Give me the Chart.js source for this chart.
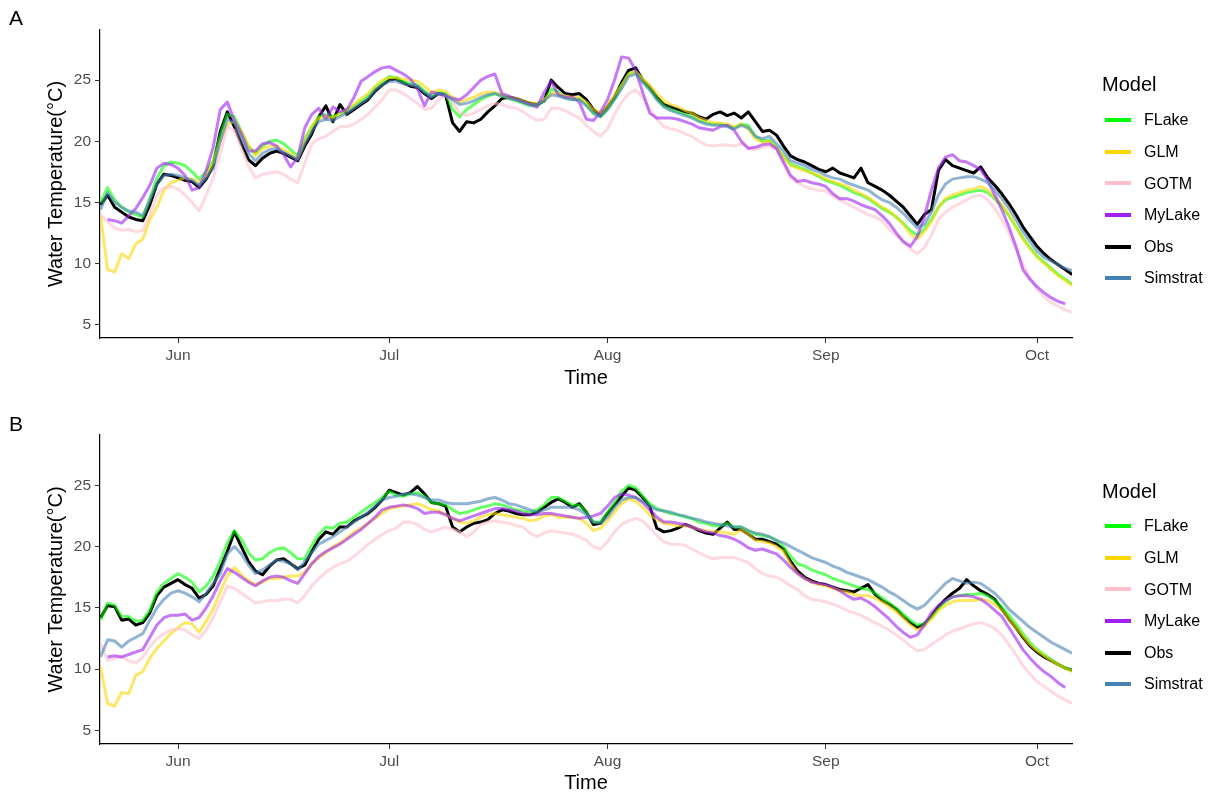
<!DOCTYPE html>
<html>
<head>
<meta charset="utf-8">
<script src="https://cdn.jsdelivr.net/npm/chart.js@4.4.1/dist/chart.umd.min.js"></script>
<style>
  body { margin: 0; background: #fff; font-family: 'Liberation Sans', Arial, Helvetica, sans-serif; }
  #wrap { position: relative; width: 1212px; height: 796px; overflow: hidden; }
  canvas { position: absolute; left: 0; }
  #chartA { top: 0; }
  #chartB { top: 400px; }
  .tag { position: absolute; left: 9px; font-size: 21px; line-height: 21px; color: #000; }
  .legend-title { position: absolute; left: 1102px; font-size: 20px; line-height: 20px; color: #000; }
  .legend-key { position: absolute; left: 1105px; width: 26px; height: 4px; }
  .legend-label { position: absolute; left: 1144px; font-size: 16px; line-height: 16px; color: #000; }
</style>
</head>
<body>
<div id="wrap">
  <canvas id="chartA" width="1212" height="400"></canvas>
  <canvas id="chartB" width="1212" height="396"></canvas>
  <div class="tag" style="top:7px">A</div>
  <div class="tag" style="top:413px">B</div>
  <div id="legendA"></div>
  <div id="legendB"></div>
</div>
<script>
// days counted from 1 June (day 0), one value per day from 21 May (-11) to 6 Oct (127)
const days = Array.from({ length: 139 }, (_, i) => i - 11);
const monthTicks = [0, 30, 61, 92, 122];
const monthLabels = ['Jun', 'Jul', 'Aug', 'Sep', 'Oct'];
const yTicks = [5, 10, 15, 20, 25];

const models = ['FLake', 'GLM', 'GOTM', 'MyLake', 'Obs', 'Simstrat'];
const modelColors = ['#00FF00', '#FFD700', '#FFC0CB', '#A020F0', '#000000', '#4682B4'];

// ---- panel A ----
const flakeA = [
  15.0, 16.2, 15.2, 14.6, 14.2, 14.0, 13.8, 15.3, 17.0, 18.0,
  18.3, 18.2, 18.0, 17.5, 16.9, 17.5, 18.4, 20.5, 22.2, 22.0,
  20.8, 19.6, 19.0, 19.6, 20.0, 20.1, 19.8, 19.3, 18.8, 20.2,
  21.2, 22.0, 22.2, 22.0, 22.2, 22.5, 22.9, 23.3, 23.7, 24.4,
  24.8, 25.3, 25.2, 24.9, 24.7, 24.6, 24.1, 23.7, 24.0, 23.9,
  22.6, 22.0, 22.6, 23.0, 23.4, 23.7, 23.9, 23.7, 23.5, 23.3,
  23.1, 22.9, 22.9, 23.3, 24.3, 24.0, 23.6, 23.4, 23.5, 23.0,
  22.3, 22.0, 22.6, 23.5, 24.5, 25.5, 25.7, 25.0, 24.3, 23.5,
  22.9, 22.6, 22.4, 22.2, 22.0, 21.7, 21.5, 21.4, 21.4, 21.3,
  21.1, 21.4, 21.3, 20.4, 20.0, 20.1, 19.5, 18.8, 18.1, 17.9,
  17.7, 17.4, 17.1, 16.8, 16.6, 16.4, 16.1, 15.8, 15.6, 15.3,
  14.9, 14.5, 14.2, 13.8, 13.3, 12.7, 12.3, 12.8, 13.6, 14.6,
  15.2, 15.4, 15.6, 15.8, 15.9, 16.0, 15.8, 15.3, 14.7, 13.9,
  13.0, 12.1, 11.3, 10.6, 10.1, 9.6, 9.1, 8.7, 8.3
];
const glmA = [
  13.9, 9.5, 9.3, 10.8, 10.4, 11.6, 12.0, 13.6, 14.6, 16.0,
  16.6, 16.8, 17.0, 16.9, 16.6, 17.2, 18.2, 20.0, 21.4, 21.6,
  20.8, 19.6, 18.8, 19.4, 19.6, 19.6, 19.3, 19.0, 18.6, 20.0,
  21.2, 21.9, 22.0, 21.9, 22.3, 22.6, 23.0, 23.5, 23.9, 24.5,
  25.0, 25.2, 25.2, 25.1, 25.0, 24.9, 24.5, 24.0, 24.2, 24.1,
  23.6, 23.2, 23.4, 23.6, 23.9, 24.0, 24.0, 23.8, 23.6, 23.5,
  23.3, 23.1, 23.1, 23.4, 23.9, 23.9, 23.7, 23.6, 23.6, 23.2,
  22.6, 22.3, 22.9, 23.8, 24.6, 25.5, 25.7, 25.1, 24.6, 23.9,
  23.3, 23.0, 22.8, 22.5, 22.3, 21.9, 21.7, 21.5, 21.5, 21.4,
  21.2, 21.4, 21.0, 20.2, 19.9, 20.0, 19.4, 18.7, 18.0, 17.8,
  17.6, 17.4, 17.2, 16.9, 16.7, 16.5, 16.3, 16.0, 15.7, 15.4,
  15.0, 14.6, 14.3, 13.8, 13.2, 12.4, 12.0, 12.6, 13.4, 14.6,
  15.3, 15.6, 15.8, 16.0, 16.1, 16.3, 16.0, 15.4, 14.8, 14.0,
  13.0, 12.0, 11.2, 10.5, 10.0, 9.5, 9.0, 8.6, 8.2
];
const gotmA = [
  14.0, 13.4, 12.9, 12.7, 12.8, 12.6, 12.7, 14.0, 15.6, 16.2,
  16.3, 16.1, 15.6, 15.0, 14.3, 15.6, 17.0, 19.0, 21.2, 20.9,
  19.4, 18.0, 17.0, 17.3, 17.4, 17.5, 17.3, 16.9, 16.6, 18.2,
  19.8, 20.2, 20.4, 20.8, 21.2, 21.2, 21.4, 21.8, 22.2, 22.8,
  23.4, 24.2, 24.2, 23.9, 23.5, 23.1, 22.6, 22.7, 23.4, 23.8,
  23.2, 22.3, 22.1, 22.3, 22.6, 22.9, 23.1, 23.0, 22.8, 22.7,
  22.4, 22.0, 21.7, 21.8, 22.7, 22.7, 22.5, 22.2, 21.9, 21.3,
  20.8, 20.4, 21.0, 22.2, 23.2, 23.9, 24.2, 23.6, 22.6, 21.8,
  21.2, 21.0, 20.9, 20.6, 20.4, 20.0, 19.7, 19.6, 19.7, 19.7,
  19.6, 19.8, 19.5, 19.3, 19.5, 19.6, 19.3, 18.2, 17.0, 16.6,
  16.3, 16.1, 16.0, 15.9, 15.5, 15.2, 14.9, 14.6, 14.3, 14.0,
  13.8, 13.5, 12.8, 12.3, 11.8, 11.2, 10.8, 11.3, 12.3, 13.6,
  14.2, 14.6, 14.9, 15.2, 15.5, 15.6, 15.2, 14.5, 13.6, 12.5,
  11.2, 10.0, 8.8, 7.9, 7.3, 6.8, 6.5, 6.2, 6.0
];
const mylakeA = [
  null, 13.6, 13.5, 13.3, 13.9, 14.5, 15.4, 16.4, 17.8, 18.2,
  18.1, 17.8, 17.2, 16.0, 16.2, 17.6, 19.5, 22.6, 23.2, 21.7,
  20.6, 19.2, 19.2, 19.8, 19.9, 19.6, 18.9, 17.9, 18.7, 21.1,
  22.2, 22.7, 21.8, 22.8, 22.4, 22.6, 23.6, 24.9, 25.3, 25.7,
  26.0, 26.1, 25.8, 25.5, 25.1, 24.3, 22.9, 24.0, 23.9, 23.7,
  23.5, 23.4, 23.8, 24.4, 25.0, 25.3, 25.5, 23.9, 23.7, 23.4,
  23.2, 23.0, 22.8, 24.0, 24.9, 23.8, 23.6, 23.6, 23.2, 21.8,
  21.7, 22.4, 23.4, 25.0, 26.9, 26.8, 25.8, 24.0, 22.3, 21.9,
  21.9, 21.9, 21.8, 21.6, 21.4, 21.1, 21.0, 20.9, 21.2, 21.3,
  20.9, 20.0, 19.4, 19.5, 19.7, 19.8, 19.4, 18.3, 17.2, 16.7,
  16.8, 16.6, 16.5, 16.3, 15.7, 15.3, 15.3, 15.1, 14.8, 14.6,
  14.4, 13.9, 13.3, 12.5, 11.8, 11.4, 12.2, 13.8, 16.0, 17.8,
  18.7, 18.9, 18.4, 18.3, 18.0, 17.7, 16.8, 15.6, 14.4, 13.0,
  11.4, 9.5, 8.7, 8.1, 7.6, 7.2, 6.9, 6.7, null
];
const obsA = [
  14.8, 15.6, 14.6, 14.2, 13.8, 13.6, 13.5, 14.8, 16.5, 17.3,
  17.2, 17.0, 16.8, 16.7, 16.2, 16.9, 18.0, 20.8, 22.4, 21.2,
  19.8, 18.5, 18.0, 18.6, 19.0, 19.2, 19.0, 18.7, 18.4, 19.6,
  20.6, 22.0, 22.9, 21.6, 23.0, 22.2, 22.6, 23.0, 23.4, 24.1,
  24.6, 25.0, 25.1, 24.8, 24.5, 24.4, 23.9, 23.5, 23.9, 23.8,
  21.5, 20.8, 21.6, 21.5, 21.8, 22.4, 22.9, 23.5, 23.6, 23.5,
  23.3, 23.1, 23.0, 23.3, 25.0, 24.4, 23.9, 23.8, 23.9, 23.4,
  22.6, 22.1, 22.8, 23.6, 24.8, 25.8, 26.0, 25.0, 24.4, 23.6,
  23.0, 22.8, 22.6, 22.4, 22.3, 22.0, 21.8, 22.2, 22.4, 22.1,
  22.3, 21.9, 22.4, 21.6, 20.8, 20.9, 20.5, 19.6, 18.8, 18.5,
  18.3, 18.0, 17.7, 17.5, 17.8, 17.4, 17.2, 17.0, 17.8, 16.6,
  16.3, 16.0, 15.6, 15.1, 14.6, 13.9, 13.2, 14.0, 14.4, 17.6,
  18.5, 18.0, 17.8, 17.6, 17.4, 17.9, 17.0, 16.4, 15.7, 14.9,
  14.0, 13.0, 12.2, 11.4, 10.8, 10.3, 9.9, 9.5, 9.1
];
const simstratA = [
  14.4, 15.8, 15.0, 14.6, 14.3, 14.2, 13.9, 15.2, 16.5, 17.2,
  17.3, 17.2, 17.0, 16.8, 16.4, 17.0, 17.8, 20.0, 21.8, 21.5,
  20.2, 19.0, 18.4, 19.0, 19.3, 19.4, 19.1, 18.8, 18.5, 19.8,
  20.8, 21.6, 21.8, 21.7, 22.0, 22.3, 22.7, 23.1, 23.5, 24.2,
  24.6, 24.9, 24.9, 24.7, 24.6, 24.5, 24.0, 23.6, 23.9, 23.8,
  23.4, 23.0, 23.1, 23.3, 23.6, 23.8, 23.9, 23.7, 23.5, 23.4,
  23.2, 23.0, 23.0, 23.3, 23.8, 23.7, 23.5, 23.4, 23.4, 22.9,
  22.3, 22.0, 22.6, 23.4, 24.3, 25.3, 25.5, 24.8, 24.2, 23.4,
  22.8, 22.5, 22.3, 22.1, 21.9, 21.6, 21.4, 21.3, 21.3, 21.2,
  21.0, 21.3, 21.1, 20.4, 20.2, 20.4, 19.8, 19.2, 18.4, 18.2,
  18.0, 17.7, 17.5, 17.2, 17.0, 16.9, 16.6, 16.4, 16.2, 16.0,
  15.6, 15.2, 15.0, 14.6, 14.1, 13.5, 12.9, 13.2, 14.2, 15.6,
  16.5, 16.9, 17.0, 17.1, 17.1, 16.9, 16.6, 16.0, 15.3, 14.5,
  13.6, 12.6, 11.8, 11.0, 10.5, 10.2, 9.9, 9.6, 9.4
];

// ---- panel B ----
const flakeB = [
  14.0, 15.4, 15.2, 14.3, 14.3, 13.9, 14.0, 14.8, 16.3, 17.0,
  17.4, 17.8, 17.5, 17.1, 16.3, 16.8, 17.6, 18.8, 20.3, 21.3,
  20.6, 19.5, 18.9, 19.0, 19.5, 19.8, 19.9, 19.5, 19.0, 19.0,
  20.1, 21.0, 21.6, 21.5, 21.9, 22.0, 22.4, 22.8, 23.2, 23.6,
  24.0, 24.5, 24.2, 24.1, 24.3, 24.4, 24.1, 23.6, 23.5, 23.4,
  23.0, 22.7, 22.8, 23.0, 23.2, 23.3, 23.5, 23.4, 23.2, 23.0,
  22.9, 22.8, 23.0, 23.4, 24.0, 24.0, 23.7, 23.4, 23.4, 22.8,
  22.0, 22.0, 22.8, 23.6, 24.5, 25.0, 24.8, 24.1, 23.5, 23.1,
  22.9, 22.7, 22.6, 22.4, 22.3, 22.0, 21.9, 21.7, 21.7, 21.9,
  21.6, 21.6, 21.3, 21.0, 20.9, 20.8, 20.5, 20.0, 19.2, 18.6,
  18.4, 18.1, 17.9, 17.7, 17.4, 17.2, 17.0, 16.8, 16.6, 16.5,
  16.2, 15.8, 15.4, 15.0, 14.5, 14.0, 13.6, 13.7, 14.2, 14.9,
  15.5, 15.9, 16.0, 16.1, 16.1, 16.2, 16.0, 15.6, 15.1, 14.4,
  13.7, 12.9, 12.2, 11.6, 11.2, 10.8, 10.4, 10.1, 9.9
];
const glmB = [
  10.2, 7.2, 7.0, 8.1, 8.0, 9.5, 9.8, 10.9, 11.7, 12.3,
  12.9, 13.4, 13.8, 13.7, 13.0, 13.9, 14.9, 16.3, 17.6, 18.3,
  17.7, 17.2, 16.9, 17.1, 17.4, 17.4, 17.5, 17.6, 17.6, 17.9,
  18.6, 19.1, 19.5, 20.0, 20.3, 20.7, 21.2, 21.5, 21.9, 22.3,
  22.7, 23.1, 23.2, 23.3, 23.4, 23.5, 23.3, 23.0, 22.9, 22.6,
  22.3, 22.0, 21.9, 22.1, 22.4, 22.6, 22.7, 22.6, 22.5, 22.4,
  22.3, 22.1, 22.2, 22.5, 22.6, 22.4, 22.4, 22.4, 22.3, 21.9,
  21.3, 21.5, 22.1, 22.8, 23.5, 23.9, 23.7, 23.2, 22.6, 22.2,
  21.9, 21.8, 21.7, 21.7, 21.6, 21.4, 21.3, 21.2, 21.2, 21.1,
  21.0, 21.4, 21.0, 20.5, 20.4, 20.3, 20.0, 19.6, 18.6, 17.8,
  17.4, 17.1, 16.9, 16.8, 16.6, 16.4, 16.3, 16.1, 16.0, 16.0,
  15.8, 15.5, 15.1, 14.7, 14.2, 13.6, 13.2, 13.5, 14.1, 14.8,
  15.2, 15.5, 15.6, 15.6, 15.6, 15.7, 15.6, 15.3, 14.8, 14.1,
  13.4, 12.7, 12.0, 11.5, 11.1, 10.7, 10.4, 10.1, 9.8
];
const gotmB = [
  12.1, 10.7, 10.9, 11.0, 10.7, 10.5, 11.0, 11.8, 12.5, 12.9,
  13.2, 13.3, 13.2, 12.8, 12.5, 13.2, 14.2, 15.5, 16.8, 16.6,
  16.2, 15.8, 15.4, 15.5, 15.6, 15.6, 15.7, 15.7, 15.4, 16.0,
  16.8, 17.4, 17.9, 18.3, 18.6, 18.8, 19.2, 19.7, 20.2, 20.6,
  21.0, 21.3, 21.5, 22.0, 22.0, 21.8, 21.4, 21.2, 21.4, 21.6,
  21.4, 21.2, 20.8, 21.2, 21.8, 22.0, 22.1, 22.0, 21.9, 21.7,
  21.6, 21.1, 20.8, 21.1, 21.3, 21.2, 21.1, 21.0, 20.8, 20.5,
  20.0, 19.8, 20.4, 21.2, 21.8, 22.1, 22.3, 22.1, 21.5, 20.9,
  20.4, 20.2, 20.2, 20.1, 19.8, 19.5, 19.2, 19.0, 19.1, 19.1,
  19.1, 18.9, 18.7, 18.2, 17.8, 17.6, 17.5, 17.2, 16.8, 16.5,
  16.0, 15.7, 15.6, 15.5, 15.3, 15.1, 14.8, 14.6, 14.4, 14.1,
  13.8, 13.5, 13.2, 12.8, 12.4, 11.9, 11.5, 11.6, 12.0, 12.4,
  12.8, 13.1, 13.3, 13.5, 13.7, 13.8, 13.6, 13.3, 12.8, 12.0,
  11.2, 10.3, 9.6, 9.0, 8.6, 8.2, 7.8, 7.5, 7.2
];
const mylakeB = [
  null, 11.0, 11.1, 11.0, 11.2, 11.4, 11.6, 12.6, 13.6, 14.2,
  14.4, 14.4, 14.5, 14.0, 14.2, 15.0, 16.0, 17.2, 18.2, 17.9,
  17.5, 17.1, 16.8, 17.2, 17.5, 17.6, 17.5, 17.2, 17.0, 17.8,
  18.6, 19.2, 19.6, 19.9, 20.2, 20.6, 21.0, 21.4, 21.9, 22.4,
  23.0, 23.2, 23.3, 23.4, 23.3, 23.1, 22.7, 22.8, 22.8, 22.6,
  22.3, 22.1, 22.3, 22.5, 22.7, 22.9, 23.1, 23.1, 23.0, 22.9,
  22.7, 22.6, 22.6, 22.7, 22.7, 22.6, 22.5, 22.4, 22.3, 22.4,
  22.5, 22.7, 23.3, 24.0, 24.3, 24.2, 24.0, 23.6, 23.0, 22.4,
  22.0, 22.0, 21.9, 21.8, 21.6, 21.4, 21.2, 21.1, 20.9, 20.8,
  20.6, 20.3, 19.9, 19.7, 19.8, 19.6, 19.4, 18.9, 18.3, 17.8,
  17.4, 17.1, 17.0, 16.9, 16.7, 16.4, 16.0, 15.7, 15.8, 15.5,
  15.1, 14.6, 14.1, 13.5, 13.0, 12.6, 12.8, 13.6, 14.6, 15.2,
  15.6, 15.9, 16.0, 16.0, 15.9, 15.7, 15.3, 14.8, 14.3, 13.4,
  12.5, 11.6, 10.9, 10.3, 9.8, 9.4, 8.9, 8.5, null
];
const obsB = [
  14.2, 15.2, 15.1, 14.0, 14.1, 13.6, 13.8, 14.6, 16.0, 16.7,
  17.0, 17.3, 16.9, 16.6, 15.8, 16.1, 16.8, 18.2, 19.6, 21.2,
  20.0, 18.8, 18.0, 17.7, 18.4, 18.9, 19.0, 18.6, 18.2, 18.5,
  19.6, 20.6, 21.2, 21.0, 21.6, 21.6, 22.1, 22.4, 22.7, 23.2,
  23.8, 24.6, 24.4, 24.2, 24.4, 24.9, 24.3, 23.6, 23.5, 23.3,
  21.6, 21.2, 21.6, 21.9, 22.0, 22.2, 22.7, 23.0, 22.9, 22.7,
  22.6, 22.6, 22.8, 23.2, 23.6, 23.9, 23.6, 23.2, 23.5, 22.8,
  21.8, 21.9, 22.7, 23.4, 24.1, 24.8, 24.6, 24.0, 23.3, 21.5,
  21.2, 21.3, 21.5, 21.8, 21.6, 21.3, 21.1, 21.0, 21.5, 22.0,
  21.4, 21.4, 21.0, 20.6, 20.6, 20.4, 20.2, 19.8, 18.8, 18.0,
  17.5, 17.2, 17.0, 16.9, 16.7, 16.5, 16.4, 16.3, 16.6, 16.9,
  16.1, 15.6, 15.3, 14.9, 14.3, 13.8, 13.4, 13.7, 14.3, 15.1,
  15.7, 16.2, 16.6, 17.3, 16.8, 16.4, 16.1, 15.7, 14.9, 14.1,
  13.4, 12.6, 11.9, 11.4, 11.0, 10.7, 10.4, 10.1, 9.9
];
const simstratB = [
  11.0, 12.4, 12.3, 11.8, 12.3, 12.6, 12.9, 14.0, 15.0, 15.7,
  16.2, 16.4, 16.2, 15.9, 15.5, 16.2, 17.0, 17.8, 19.4, 20.0,
  19.4, 18.5, 17.8, 18.1, 18.5, 18.9, 18.8, 18.6, 18.1, 18.8,
  19.5, 20.2, 20.5, 20.8, 21.2, 21.6, 22.0, 22.4, 22.8, 23.3,
  23.8, 24.0, 24.1, 24.3, 24.3, 24.2, 24.0, 23.8, 23.8, 23.6,
  23.5, 23.5, 23.5, 23.6, 23.7, 23.9, 24.0, 23.8, 23.5, 23.4,
  23.2, 23.0, 22.8, 23.0, 23.2, 23.2, 23.2, 23.2, 23.0, 22.6,
  22.0, 21.9, 22.4, 23.2, 23.8, 24.0, 24.0, 23.7, 23.3, 23.0,
  22.9, 22.8, 22.6, 22.5, 22.3, 22.2, 22.0, 21.9, 21.8, 21.7,
  21.6, 21.6, 21.3, 21.1, 21.0, 20.8, 20.5, 20.3, 20.0, 19.7,
  19.4, 19.1, 18.9, 18.7, 18.4, 18.2, 17.9, 17.7, 17.5, 17.3,
  17.0, 16.7, 16.3, 16.0, 15.6, 15.2, 14.9, 15.2, 15.8, 16.4,
  17.0, 17.4, 17.2, 17.0, 17.1, 17.0, 16.6, 16.2, 15.6, 14.9,
  14.4, 13.9, 13.4, 13.0, 12.6, 12.2, 11.9, 11.6, 11.3
];

const panelA = { FLake: flakeA, GLM: glmA, GOTM: gotmA, MyLake: mylakeA, Obs: obsA, Simstrat: simstratA };
const panelB = { FLake: flakeB, GLM: glmB, GOTM: gotmB, MyLake: mylakeB, Obs: obsB, Simstrat: simstratB };

// first entry is drawn on top: Obs underneath, then the models in ggplot order
const drawOrder = ['Simstrat', 'MyLake', 'GOTM', 'GLM', 'FLake', 'Obs'];

const FONT = "'Liberation Sans', Arial, Helvetica, sans-serif";
Chart.defaults.font.family = FONT;

function lineColor(name) {
    const hex = modelColors[models.indexOf(name)];
    if (name === 'Obs') return hex;
    const r = parseInt(hex.slice(1, 3), 16), g = parseInt(hex.slice(3, 5), 16), b = parseInt(hex.slice(5, 7), 16);
    return `rgba(${r},${g},${b},0.6)`;
}

function makePanel(canvasId, series, box) {
    const datasets = drawOrder.map(name => ({
        label: name,
        data: series[name].map((v, i) => ({ x: days[i], y: v })),
        borderColor: lineColor(name),
        borderWidth: 3,
        borderJoinStyle: 'round',
        pointRadius: 0,
        tension: 0,
        spanGaps: false
    }));

    const config = {
        type: 'line',
        data: { datasets },
        options: {
            responsive: false,
            animation: false,
            devicePixelRatio: 1,
            layout: { padding: { left: 0, right: 140, top: box.top, bottom: 0 } },
            plugins: { legend: { display: false }, tooltip: { enabled: false } },
            scales: {
                x: {
                    type: 'linear',
                    min: -11.08,
                    max: 126.97,
                    afterBuildTicks: s => { s.ticks = monthTicks.map(v => ({ value: v })); },
                    afterFit: s => { s.height = box.axisH; },
                    ticks: {
                        autoSkip: false, maxRotation: 0, padding: 3,
                        color: '#4d4d4d', font: { size: 15.5 },
                        callback: (v, i) => monthLabels[i]
                    },
                    grid: { drawOnChartArea: false, drawTicks: true, tickLength: 5, color: '#333', lineWidth: 1 },
                    border: { display: true, color: '#000', width: 1.2 },
                    title: {
                        display: true, text: 'Time', color: '#000',
                        font: { size: 20 }, padding: { top: 0, bottom: box.titlePad }
                    }
                },
                y: {
                    min: 3.9,
                    max: 29.1,
                    afterBuildTicks: s => { s.ticks = yTicks.map(v => ({ value: v })); },
                    afterFit: s => { s.width = 100; },
                    ticks: { padding: 4, color: '#4d4d4d', font: { size: 15.5 } },
                    grid: { drawOnChartArea: false, drawTicks: true, tickLength: 5, color: '#333', lineWidth: 1 },
                    border: { display: true, color: '#000', width: 1.2 },
                    title: {
                        display: true, text: 'Water Temperature(°C)', color: '#000',
                        font: { size: 20 }, padding: { top: 44, bottom: 0 }
                    }
                }
            }
        }
    };
    return new Chart(document.getElementById(canvasId), config);
}

const chartA = makePanel('chartA', panelA, { top: 30, axisH: 62, titlePad: 10 });
const chartB = makePanel('chartB', panelB, { top: 35, axisH: 52, titlePad: 1 });

function buildLegend(holderId, titleCenter, firstItem) {
    const holder = document.getElementById(holderId);
    const title = document.createElement('div');
    title.className = 'legend-title';
    title.innerText = 'Model';
    title.style.top = `${titleCenter - 9.8}px`;
    holder.appendChild(title);
    for (let i = 0; i < models.length; i++) {
        const cy = firstItem + i * 31.65;
        const key = document.createElement('div');
        key.className = 'legend-key';
        key.style.top = `${cy - 2}px`;
        key.style.background = modelColors[i];
        holder.appendChild(key);
        const label = document.createElement('div');
        label.className = 'legend-label';
        label.innerText = models[i];
        label.style.top = `${cy - 7.8}px`;
        holder.appendChild(label);
    }
}

buildLegend('legendA', 84.2, 120);
buildLegend('legendB', 490.8, 526);
</script>
</body>
</html>
